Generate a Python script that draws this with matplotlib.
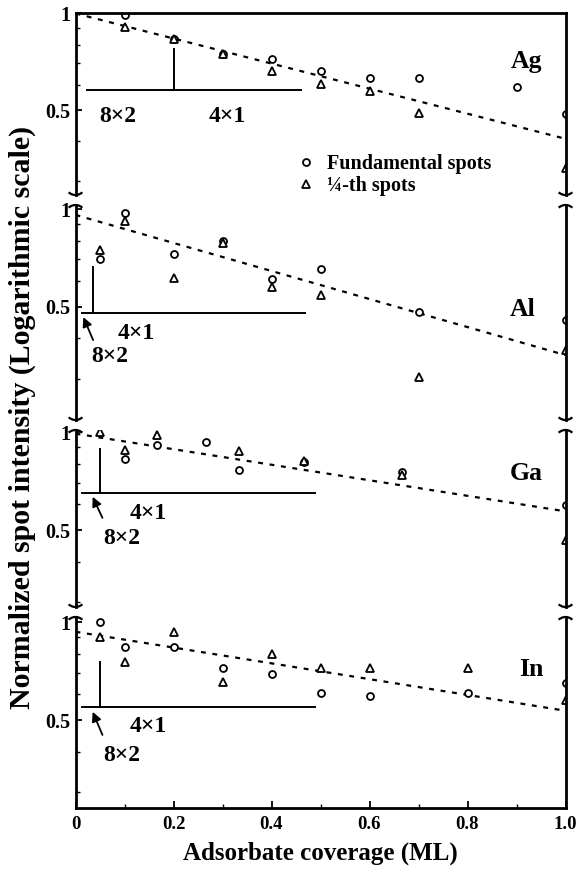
import numpy as np
import matplotlib
matplotlib.use('Agg')
import matplotlib.pyplot as plt
from matplotlib.lines import Line2D
from matplotlib.ticker import FixedLocator, NullFormatter

plt.rcParams['font.family'] = ['Liberation Serif', 'DejaVu Serif']
plt.rcParams['font.weight'] = 'bold'

# ---------------- data ----------------
panel_names = ['Ag', 'Al', 'Ga', 'In']

ag_fund_x = [0.1, 0.2, 0.3, 0.4, 0.5, 0.6, 0.7, 0.9, 1.0]
ag_fund_y = [0.99, 0.83, 0.75, 0.72, 0.66, 0.63, 0.63, 0.59, 0.485]
ag_quar_x = [0.1, 0.2, 0.3, 0.4, 0.5, 0.6, 0.7, 1.0]
ag_quar_y = [0.91, 0.83, 0.745, 0.66, 0.605, 0.573, 0.488, 0.33]
ag_fit_x = [0.0, 1.0]
ag_fit_y = [1.0, 0.407]

al_fund_x = [0.05, 0.1, 0.2, 0.3, 0.4, 0.5, 0.7, 1.0]
al_fund_y = [0.70, 0.97, 0.725, 0.80, 0.61, 0.652, 0.483, 0.457]
al_quar_x = [0.05, 0.1, 0.2, 0.3, 0.4, 0.5, 0.7, 1.0]
al_quar_y = [0.748, 0.92, 0.612, 0.784, 0.574, 0.543, 0.304, 0.368]
al_fit_x = [0.0, 1.0]
al_fit_y = [0.96, 0.355]

ga_fund_x = [0.1, 0.167, 0.267, 0.333, 0.467, 0.667, 1.0]
ga_fund_y = [0.826, 0.914, 0.936, 0.765, 0.812, 0.756, 0.597]
ga_quar_x = [0.05, 0.1, 0.167, 0.333, 0.467, 0.667, 1.0]
ga_quar_y = [1.0, 0.882, 0.98, 0.878, 0.816, 0.739, 0.466]
ga_fit_x = [0.0, 1.0]
ga_fit_y = [0.99, 0.571]

in_fund_x = [0.05, 0.1, 0.2, 0.3, 0.4, 0.5, 0.6, 0.8, 1.0]
in_fund_y = [1.0, 0.841, 0.841, 0.722, 0.693, 0.607, 0.593, 0.604, 0.649]
in_quar_x = [0.05, 0.1, 0.2, 0.3, 0.4, 0.5, 0.6, 0.8, 1.0]
in_quar_y = [0.899, 0.756, 0.932, 0.653, 0.797, 0.725, 0.725, 0.722, 0.576]
in_fit_x = [0.0, 1.0]
in_fit_y = [0.935, 0.534]

x_ticks = [0, 0.2, 0.4, 0.6, 0.8, 1.0]
x_tick_labels = ['0', '0.2', '0.4', '0.6', '0.8', '1.0']
y_ticks = [0.5, 1.0]
y_tick_labels = ['0.5', '1']
legend_labels = ['Fundamental spots', '\u00bc-th spots']

series = {
    'Ag': (ag_fund_x, ag_fund_y, ag_quar_x, ag_quar_y, ag_fit_x, ag_fit_y),
    'Al': (al_fund_x, al_fund_y, al_quar_x, al_quar_y, al_fit_x, al_fit_y),
    'Ga': (ga_fund_x, ga_fund_y, ga_quar_x, ga_quar_y, ga_fit_x, ga_fit_y),
    'In': (in_fund_x, in_fund_y, in_quar_x, in_quar_y, in_fit_x, in_fit_y),
}

# ---------------- layout ----------------
W, H = 577, 881
fig = plt.figure(figsize=(W / 100, H / 100), dpi=100)
left_px, right_px = 75.5, 565.5
bands = {'Ag': (13, 195), 'Al': (205, 420), 'Ga': (430, 607), 'In': (617, 808)}
ylims = {'Ag': (0.272, 1.003), 'Al': (0.224, 1.03), 'Ga': (0.29, 1.016), 'In': (0.268, 1.038)}

# annotation geometry (data coords): hline, vline, label positions, arrow
annot = {
    'Ag': dict(h=(0.023, 0.46, 0.577), v=(0.2, 0.577, 0.777),
               t82=(0.087, 0.476), t41=(0.31, 0.476), arrow=None,
               name=(0.92, 0.706)),
    'Al': dict(h=(0.0127, 0.468, 0.48), v=(0.035, 0.48, 0.664),
               t82=(0.07, 0.352), t41=(0.125, 0.414),
               arrow=((0.016, 0.465), (0.036, 0.395)), name=(0.913, 0.489)),
    'Ga': dict(h=(0.0127, 0.489, 0.65), v=(0.049, 0.65, 0.891),
               t82=(0.094, 0.47), t41=(0.149, 0.562),
               arrow=((0.035, 0.633), (0.055, 0.545)), name=(0.92, 0.746)),
    'In': dict(h=(0.0127, 0.489, 0.547), v=(0.049, 0.547, 0.756),
               t82=(0.094, 0.39), t41=(0.149, 0.477),
               arrow=((0.035, 0.53), (0.055, 0.45)), name=(0.931, 0.713)),
}

lw_spine = 2.0
axes = {}
for i, name in enumerate(panel_names):
    top, bot = bands[name]
    ax = fig.add_axes([left_px / W, 1 - bot / H, (right_px - left_px) / W, (bot - top) / H])
    axes[name] = ax
    fx, fy, qx, qy, lx, ly = series[name]
    ax.set_yscale('log')
    ax.set_xlim(0, 1.0)
    ax.set_ylim(*ylims[name])
    ax.plot(lx, ly, color='black', lw=1.6, ls=(0, (2.2, 3.0)))
    ax.plot(fx, fy, ls='none', marker='o', ms=5, mfc='white', mec='black', mew=1.3)
    ax.plot(qx, qy, ls='none', marker='^', ms=5.5, mfc='white', mec='black', mew=1.3)

    a = annot[name]
    ax.plot([a['h'][0], a['h'][1]], [a['h'][2], a['h'][2]], color='black', lw=1.4)
    ax.plot([a['v'][0], a['v'][0]], [a['v'][1], a['v'][2]], color='black', lw=1.4)
    ax.text(a['t82'][0], a['t82'][1], '8\u00d72', fontsize=17, ha='center', va='center')
    ax.text(a['t41'][0], a['t41'][1], '4\u00d71', fontsize=17, ha='center', va='center')
    if a['arrow'] is not None:
        (hx, hy), (tx, ty) = a['arrow']
        ax.annotate('', xy=(hx, hy), xytext=(tx, ty),
                    arrowprops=dict(arrowstyle='-|>', color='black', lw=1.3,
                                    mutation_scale=14, shrinkA=0, shrinkB=0))
    ax.text(a['name'][0], a['name'][1], name, fontsize=18.5, ha='center', va='center')

    # spines
    for s in ['left', 'right']:
        ax.spines[s].set_linewidth(lw_spine)
    ax.spines['top'].set_visible(i == 0)
    ax.spines['top'].set_linewidth(lw_spine)
    ax.spines['bottom'].set_visible(i == len(panel_names) - 1)
    ax.spines['bottom'].set_linewidth(lw_spine)

    ax.yaxis.set_major_locator(FixedLocator(y_ticks))
    ax.set_yticklabels(y_tick_labels)
    ax.yaxis.set_minor_locator(FixedLocator([0.2, 0.3, 0.4, 0.6, 0.7, 0.8, 0.9]))
    ax.yaxis.set_minor_formatter(NullFormatter())
    ax.tick_params(axis='y', which='major', direction='in', length=4, width=1.3,
                   labelsize=14.5, pad=4, right=False)
    ax.tick_params(axis='y', which='minor', direction='in', length=3, width=1.0, right=False)

    if i == len(panel_names) - 1:
        ax.set_xticks(x_ticks)
        ax.set_xticklabels(x_tick_labels)
        ax.xaxis.set_minor_locator(FixedLocator([0.1, 0.3, 0.5, 0.7, 0.9]))
        ax.tick_params(axis='x', which='major', direction='in', length=5, width=1.3,
                       labelsize=13.5, pad=6, top=False)
        ax.tick_params(axis='x', which='minor', direction='in', length=3, width=1.0, top=False)
    else:
        ax.tick_params(axis='x', which='both', bottom=False, top=False, labelbottom=False)

    for lab in ax.get_xticklabels() + ax.get_yticklabels():
        lab.set_fontweight('bold')

# break marks at panel junctions
def squiggle(cx, cy, up):
    t = np.linspace(-1, 1, 30)
    xs = cx + 6 * t
    ys = cy + (2.0 if up else -2.0) * (t ** 2)
    fig.add_artist(Line2D(xs / W, 1 - ys / H, color='black', lw=1.6,
                          transform=fig.transFigure))

for i, name in enumerate(panel_names):
    top, bot = bands[name]
    for cx in (left_px, right_px):
        if i > 0:
            squiggle(cx, top, True)
        if i < len(panel_names) - 1:
            squiggle(cx, bot, False)

# legend
handles = [Line2D([], [], ls='none', marker='o', ms=5, mfc='white', mec='black', mew=1.3),
           Line2D([], [], ls='none', marker='^', ms=5.5, mfc='white', mec='black', mew=1.3)]
leg = axes['Ag'].legend(handles, legend_labels, loc='upper left',
                        bbox_to_anchor=(296 / W, 1 - 154 / H), bbox_transform=fig.transFigure,
                        frameon=False, fontsize=14.5, handlelength=1.0, handletextpad=0.55,
                        labelspacing=0.1, borderpad=0, borderaxespad=0)
for t in leg.get_texts():
    t.set_fontweight('bold')

fig.text(22 / W, 1 - 417.5 / H, 'Normalized spot intensity (Logarithmic scale)',
         rotation=90, ha='center', va='center', fontsize=21.5, fontweight='bold')
fig.text(320.5 / W, 1 - 853 / H, 'Adsorbate coverage (ML)', ha='center', va='center',
         fontsize=18, fontweight='bold')

fig.savefig('out.png', dpi=100)
